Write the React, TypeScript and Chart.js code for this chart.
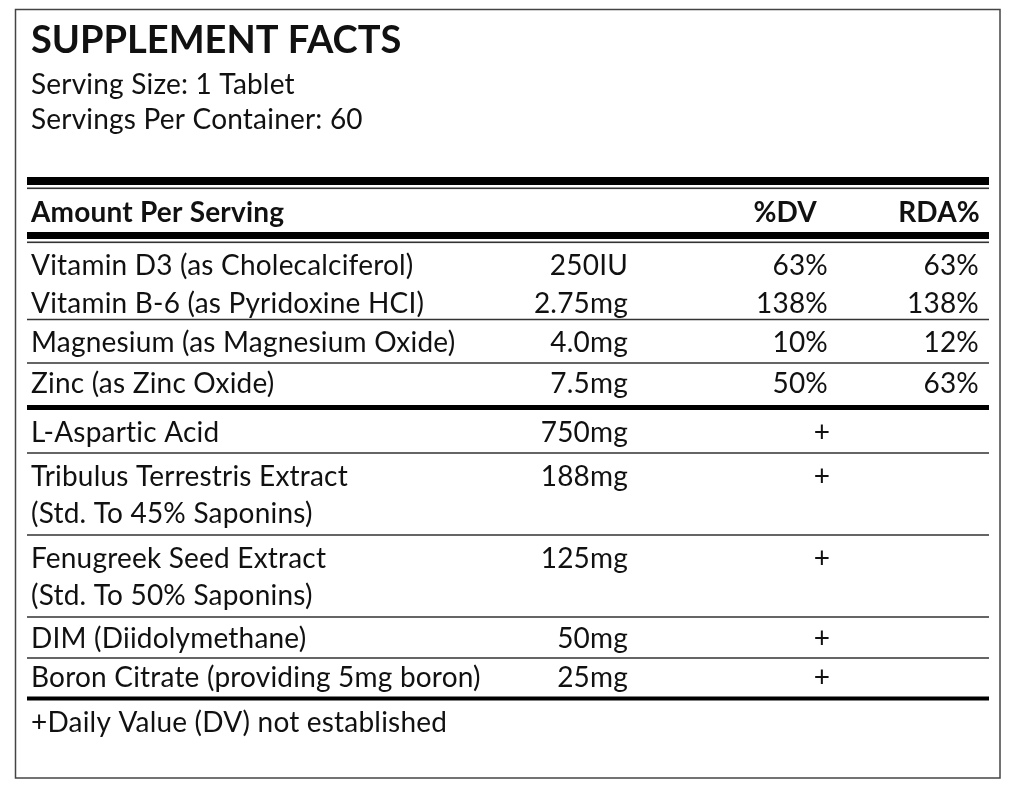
import React, { useEffect, useRef } from "react";
import { Chart, registerables } from "chart.js";

Chart.register(...registerables);

// ---------- data ----------
const titleText = "SUPPLEMENT FACTS";
const servingInfo = ["Serving Size: 1 Tablet", "Servings Per Container: 60"];
const headerLabels = ["Amount Per Serving", "%DV", "RDA%"];

const vitaminNames = [
  "Vitamin D3 (as Cholecalciferol)",
  "Vitamin B-6 (as Pyridoxine HCI)",
  "Magnesium (as Magnesium Oxide)",
  "Zinc (as Zinc Oxide)",
];
const vitaminAmounts = ["250IU", "2.75mg", "4.0mg", "7.5mg"];
const vitaminDV = ["63%", "138%", "10%", "50%"];
const vitaminRDA = ["63%", "138%", "12%", "63%"];

const otherNames = [
  ["L-Aspartic Acid"],
  ["Tribulus Terrestris Extract", "(Std. To 45% Saponins)"],
  ["Fenugreek Seed Extract", "(Std. To 50% Saponins)"],
  ["DIM (Diidolymethane)"],
  ["Boron Citrate (providing 5mg boron)"],
];
const otherAmounts = ["750mg", "188mg", "125mg", "50mg", "25mg"];
const otherDV = ["+", "+", "+", "+", "+"];

const footnote = "+Daily Value (DV) not established";

// ---------- layout (scale units = pixels) ----------
const FONT = "Lato, 'Open Sans', sans-serif";
const LEFT = 27;
const RIGHT = 989;
const TEXT_X = 31;
const COL_AMOUNT = 628;
const COL_DV = 828;
const COL_PLUS = 822;
const COL_RDA = 979;
const HEAD_DV = 817;
const HEAD_RDA = 980;

const vitaminBaselines = [275, 313, 352, 393];
const otherBaselines = [[442], [486, 523], [568, 605], [648], [687]];

const rules = [
  { y: 181, w: 8 },
  { y: 188.3, w: 1.6 },
  { y: 235.5, w: 7 },
  { y: 242.3, w: 1.6 },
  { y: 319.5, w: 1.5 },
  { y: 363, w: 1.5 },
  { y: 407.5, w: 5 },
  { y: 453, w: 1.5 },
  { y: 535, w: 1.5 },
  { y: 617, w: 1.5 },
  { y: 658, w: 1.5 },
  { y: 698.5, w: 4 },
];

const tablePlugin = {
  id: "supplementTable",
  afterDraw(chart: any) {
    const { ctx } = chart;
    const xs = chart.scales.x;
    const ys = chart.scales.y;
    const X = (v: number) => xs.getPixelForValue(v);
    const Y = (v: number) => ys.getPixelForValue(v);

    ctx.save();
    // outer frame
    ctx.strokeStyle = "#444";
    ctx.lineWidth = 1.5;
    ctx.strokeRect(X(15.5), Y(9.5), X(1000) - X(15.5), Y(778) - Y(9.5));

    // rules
    rules.forEach((r) => {
      ctx.fillStyle = r.w > 3 ? "#000" : "#333";
      ctx.fillRect(X(LEFT), Y(r.y - r.w / 2), X(RIGHT) - X(LEFT), r.w);
    });

    ctx.fillStyle = "#111";
    ctx.textBaseline = "alphabetic";

    const text = (
      s: string,
      x: number,
      y: number,
      align: CanvasTextAlign,
      font: string,
      spacing = "0.2px"
    ) => {
      ctx.font = font;
      ctx.textAlign = align;
      (ctx as any).letterSpacing = spacing;
      ctx.fillText(s, X(x), Y(y));
    };

    const body = `28px ${FONT}`;
    const bold = `bold 28px ${FONT}`;

    text(titleText, TEXT_X, 53, "left", `bold 38px ${FONT}`, "0px");
    text(servingInfo[0], TEXT_X, 94, "left", body);
    text(servingInfo[1], TEXT_X, 129, "left", body);

    text(headerLabels[0], TEXT_X, 222, "left", bold);
    text(headerLabels[1], HEAD_DV, 222, "right", bold);
    text(headerLabels[2], HEAD_RDA, 222, "right", bold);

    vitaminNames.forEach((n, i) => {
      const b = vitaminBaselines[i];
      text(n, TEXT_X, b, "left", body);
      text(vitaminAmounts[i], COL_AMOUNT, b, "right", body);
      text(vitaminDV[i], COL_DV, b, "right", body);
      text(vitaminRDA[i], COL_RDA, b, "right", body);
    });

    otherNames.forEach((lines, i) => {
      const bs = otherBaselines[i];
      lines.forEach((l, j) => text(l, TEXT_X, bs[j], "left", body));
      text(otherAmounts[i], COL_AMOUNT, bs[0], "right", body);
      text(otherDV[i], COL_PLUS, bs[0], "center", body);
    });

    text(footnote, TEXT_X, 732, "left", body);
    ctx.restore();
  },
};

export default function App() {
  const ref = useRef<HTMLCanvasElement | null>(null);

  useEffect(() => {
    document.body.style.margin = "0";
    document.body.style.background = "#fff";
    const canvas = ref.current;
    if (!canvas) return;
    const chart = new Chart(canvas, {
      type: "scatter",
      data: { datasets: [{ data: [], pointRadius: 0 }] },
      options: {
        animation: false,
        responsive: false,
        maintainAspectRatio: false,
        devicePixelRatio: 1,
        layout: { padding: 0 },
        plugins: { legend: { display: false }, tooltip: { enabled: false } },
        scales: {
          x: { type: "linear", min: 0, max: 1020, display: false },
          y: { type: "linear", min: 0, max: 789, reverse: true, display: false },
        },
      },
      plugins: [tablePlugin],
    });
    return () => chart.destroy();
  }, []);

  return (
    <div style={{ width: 1020, height: 789, background: "#fff" }}>
      <canvas ref={ref} width={1020} height={789} style={{ display: "block" }} />
    </div>
  );
}
